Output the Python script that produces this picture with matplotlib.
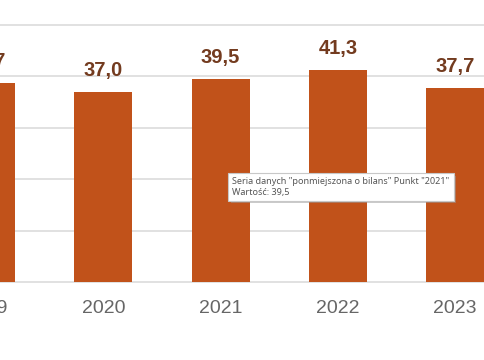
import matplotlib
matplotlib.use('Agg')
from matplotlib import pyplot as plt
import matplotlib.patheffects as pe

years = ['2019', '2020', '2021', '2022', '2023']
values = [38.7, 37.0, 39.5, 41.3, 37.7]
grid_values = [0, 10, 20, 30, 40, 50]

bar_color = '#C1521A'
label_color = '#733B1F'

plt.rcParams['font.family'] = ['Liberation Sans', 'DejaVu Sans']

fig = plt.figure(figsize=(4.85, 3.6), dpi=100)
ax = fig.add_axes([0, 0, 1, 1])
ax.set_axis_off()

xs = list(range(len(years)))

for g in grid_values:
    ax.axhline(g, color='#d9d9d9', linewidth=1.1, zorder=0)

ax.bar(xs, values, width=0.494, color=bar_color, zorder=2)

for x, v, yr in zip(xs, values, years):
    ax.text(x, v + 3.1, f'{v:.1f}'.replace('.', ','), ha='center', va='baseline',
            fontsize=14.5, fontweight='bold', color=label_color)
    ax.text(x, -5.1, yr, ha='center', va='center', fontsize=14, color='#666666')

ax.set_xlim(0.119, 4.254)
ax.set_ylim(-15.05, 54.85)

# tooltip left over from the screenshot
tip = ax.text(0.479, 0.481,
              'Seria danych "ponmiejszona o bilans" Punkt "2021"\nWartość: 39,5',
              transform=ax.transAxes, ha='left', va='center', fontsize=6.5,
              family=['Noto Sans', 'DejaVu Sans'], color='#555555', linespacing=1.2,
              zorder=5,
              bbox=dict(boxstyle='square,pad=0.45', facecolor='white',
                        edgecolor='#c8c8c8', linewidth=0.8))
tip.get_bbox_patch().set_path_effects([
    pe.SimplePatchShadow(offset=(2, -2), shadow_rgbFace='#999999', alpha=0.5),
    pe.Normal()])

fig.savefig('out.png', dpi=100)
